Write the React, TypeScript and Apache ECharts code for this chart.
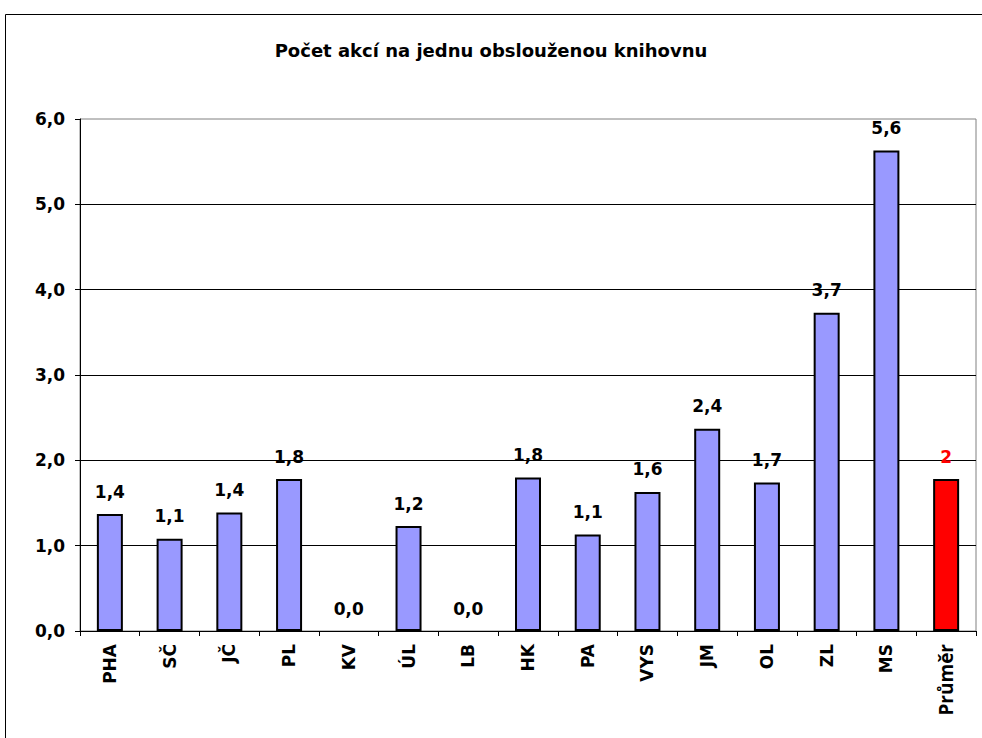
import React, { useEffect, useRef } from "react";
import * as echarts from "echarts";

const categories = ["PHA", "SČ", "JČ", "PL", "KV", "ÚL", "LB", "HK", "PA", "VYS", "JM", "OL", "ZL", "MS", "Průměr"];
const values = [1.37, 1.08, 1.39, 1.78, 0, 1.23, 0, 1.8, 1.13, 1.63, 2.37, 1.74, 3.73, 5.63, 1.78];
const averageIndex = 14;
const averageLabel = "2";
const yTicks = [0, 1, 2, 3, 4, 5, 6];
const titleText = "Počet akcí na jednu obslouženou knihovnu";

const FONT = "'DejaVu Sans', Verdana, sans-serif";

export default function App() {
  const ref = useRef<HTMLDivElement>(null);
  useEffect(() => {
    if (!ref.current) return;
    const chart = echarts.init(ref.current, null, { renderer: "svg" });
    const fmt = (v: number) => v.toFixed(1).replace(".", ",");
    chart.setOption({
      animation: false,
      backgroundColor: "#fff",
      title: {
        text: titleText,
        left: "center",
        top: 36,
        textStyle: { fontFamily: FONT, fontWeight: "bold", fontSize: 18, color: "#000" },
      },
      graphic: [
        {
          type: "rect",
          shape: { x: 5.5, y: 14.5, width: 1000, height: 800 },
          style: { fill: "none", stroke: "#000", lineWidth: 1 },
          silent: true,
        },
      ],
      grid: {
        left: 80,
        right: 6,
        top: 119,
        bottom: 107,
        show: true,
        borderColor: "#808080",
        borderWidth: 1,
        containLabel: false,
      },
      xAxis: {
        type: "category",
        data: categories,
        boundaryGap: true,
        axisLine: { show: true, lineStyle: { color: "#000", width: 1 } },
        axisTick: { show: true, length: 5, inside: false, alignWithLabel: false, lineStyle: { color: "#000" } },
        axisLabel: {
          rotate: 90,
          interval: 0,
          margin: 13,
          fontFamily: FONT,
          fontWeight: "bold",
          fontSize: 17,
          color: "#000",
          formatter: (v: string) => (v === categories[averageIndex] ? `{avg|${v}}` : v),
          rich: {
            avg: { fontFamily: "'Open Sans', sans-serif", fontWeight: "bold", fontSize: 19, color: "#000" },
          },
        },
        splitLine: { show: false },
      },
      yAxis: {
        type: "value",
        min: yTicks[0],
        max: yTicks[yTicks.length - 1],
        interval: 1,
        axisLine: { show: true, lineStyle: { color: "#000", width: 1 } },
        axisTick: { show: true, length: 5, inside: false, lineStyle: { color: "#000" } },
        axisLabel: {
          margin: 15,
          fontFamily: FONT,
          fontWeight: "bold",
          fontSize: 17,
          color: "#000",
          formatter: (v: number) => fmt(v),
        },
        splitLine: { show: true, showMaxLine: false, showMinLine: false, lineStyle: { color: "#000", width: 1 } },
      },
      series: [
        {
          type: "bar",
          barWidth: 26,
          data: values.map((v, i) => ({
            value: v,
            itemStyle:
              i === averageIndex
                ? { color: "#FF0000", borderColor: "#000", borderWidth: 2 }
                : { color: "#9999FF", borderColor: "#000", borderWidth: v === 0 ? 0 : 2 },
            label:
              i === averageIndex
                ? { color: "#FF0000", formatter: averageLabel }
                : undefined,
          })),
          label: {
            show: true,
            position: "top",
            distance: 14,
            fontFamily: FONT,
            fontWeight: "bold",
            fontSize: 17,
            color: "#000",
            formatter: (p: any) => fmt(p.value),
          },
        },
      ],
    });
    return () => chart.dispose();
  }, []);
  return (
    <div
      ref={ref}
      style={{ position: "absolute", left: 0, top: 0, width: 982, height: 738 }}
    />
  );
}
